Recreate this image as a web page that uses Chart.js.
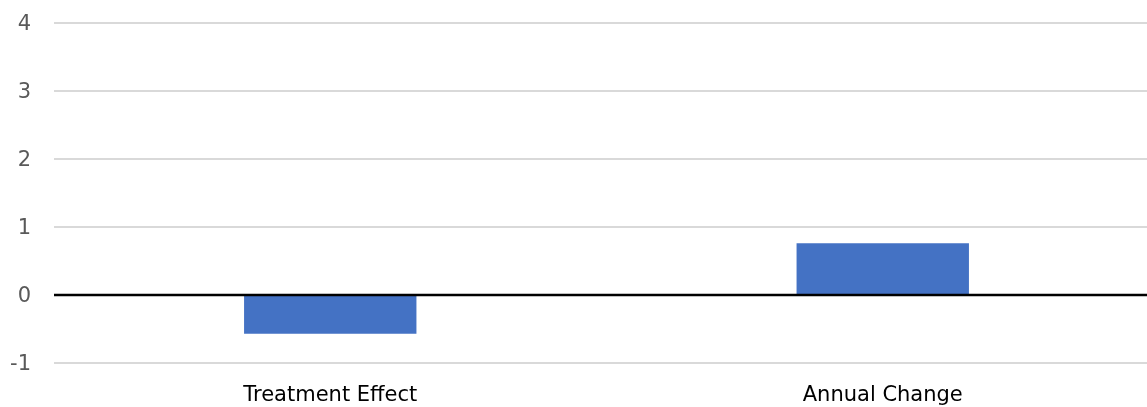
<!DOCTYPE html>
<html>
<head>
<meta charset="utf-8">
<script src="https://cdn.jsdelivr.net/npm/chart.js@4/dist/chart.umd.min.js"></script>
<style>
  html, body { margin: 0; padding: 0; background: #ffffff; overflow: hidden; }
  #wrap { width: 1147px; height: 407px; position: relative; overflow: hidden; }
</style>
</head>
<body>
<div id="wrap"><canvas id="c" width="1159" height="407"></canvas></div>
<script>
const categories = ["Treatment Effect", "Annual Change"];
const values = [-0.57, 0.76];
const yTicks = [-1, 0, 1, 2, 3, 4];

const zeroLine = {
  id: 'zeroLine',
  afterDatasetsDraw(chart) {
    const y = chart.scales.y.getPixelForValue(0);
    const a = chart.chartArea;
    const ctx = chart.ctx;
    ctx.save();
    ctx.strokeStyle = '#000000';
    ctx.lineWidth = 2.5;
    ctx.beginPath();
    ctx.moveTo(a.left, y);
    ctx.lineTo(a.right, y);
    ctx.stroke();
    ctx.restore();
  }
};

new Chart(document.getElementById('c'), {
  type: 'bar',
  data: {
    labels: categories,
    datasets: [{
      data: values,
      backgroundColor: '#4472c4',
      borderWidth: 0,
      barPercentage: 1,
      categoryPercentage: 0.312
    }]
  },
  options: {
    responsive: false,
    animation: false,
    devicePixelRatio: 1,
    layout: { padding: { top: 23, right: 0, bottom: 0, left: 0 } },
    plugins: { legend: { display: false }, tooltip: { enabled: false }, title: { display: false } },
    scales: {
      x: {
        grid: { display: false, drawTicks: false },
        border: { display: false },
        ticks: {
          color: '#000000',
          font: { family: 'DejaVu Sans', size: 21 },
          padding: 20,
          maxRotation: 0
        },
        afterFit(scale) { scale.height = 44; }
      },
      y: {
        min: yTicks[0],
        max: yTicks[yTicks.length - 1],
        afterBuildTicks(scale) { scale.ticks = yTicks.map(v => ({ value: v })); },
        grid: {
          drawTicks: false,
          color: (ctx) => ctx.tick && ctx.tick.value === 0 ? 'rgba(0,0,0,0)' : '#d9d9d9',
          lineWidth: 2
        },
        border: { display: false },
        ticks: {
          color: '#595959',
          font: { family: 'DejaVu Sans', size: 21 },
          padding: 23,
          labelOffset: 2
        },
        afterFit(scale) { scale.width = 54; scale.paddingTop = 0; scale.paddingBottom = 0; }
      }
    }
  },
  plugins: [zeroLine]
});
</script>
</body>
</html>
